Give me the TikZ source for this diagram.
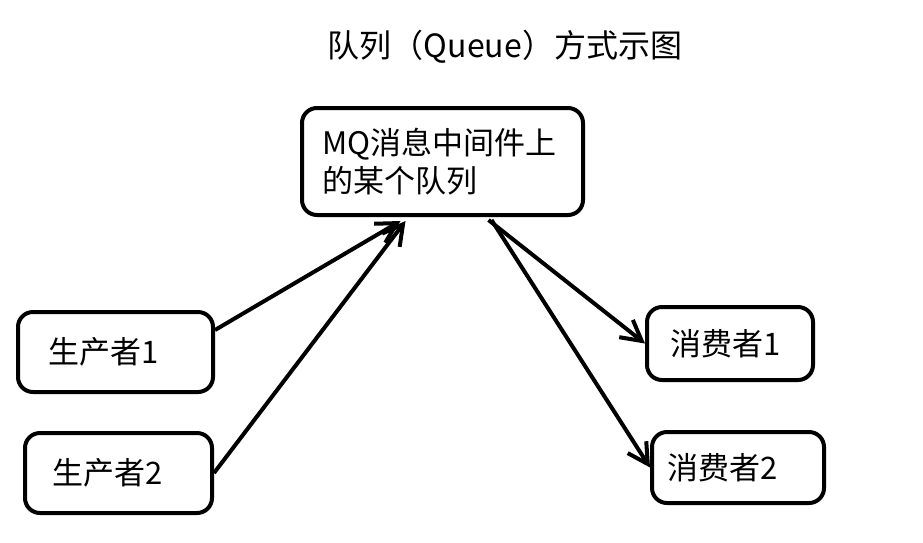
\documentclass[tikz,border=0pt]{standalone}
\usepackage{fontspec}
\setmainfont{Noto Sans CJK SC}
\usetikzlibrary{arrows.meta}

\begin{document}
\begin{tikzpicture}[x=1pt,y=-1pt,line width=4pt,>={Straight Barb[length=20pt,width=22pt]},
    box/.style={draw,rounded corners=15pt,align=left,font=\fontsize{31pt}{38pt}\selectfont}]
        \useasboundingbox (0,0) rectangle (923,542);
        \node[font=\fontsize{32pt}{38pt}\selectfont] (title) at (505,47) {队列（Queue）方式示图};
        \node[box,minimum width=281pt,minimum height=107pt,text width=241pt,inner xsep=20pt] (mq) at (442.5,161.5) {MQ消息中间件上\\的某个队列};
        \node[box,minimum width=195pt,minimum height=80pt,text width=135pt,inner xsep=30pt] (p1) at (115.5,352) {生产者1};
        \node[box,minimum width=187pt,minimum height=80pt,text width=133pt,inner xsep=27pt] (p2) at (118.5,473) {生产者2};
        \node[box,minimum width=166pt,minimum height=73pt,text width=120pt,inner xsep=23pt] (c1) at (730,343.5) {消费者1};
        \node[box,minimum width=172pt,minimum height=71pt,text width=142pt,inner xsep=15pt] (c2) at (738,467.5) {消费者2};

        \path[->] ([yshift=22pt]p1.east) edge ([xshift=-42pt,yshift=-4pt]mq.south)
                  (p2.east) edge ([xshift=-37pt,yshift=-4pt]mq.south)
                  ([xshift=46pt,yshift=-3pt]mq.south) edge (c1.west)
                  ([xshift=49pt,yshift=-3pt]mq.south) edge (c2.west);
    \end{tikzpicture}
\end{document}
